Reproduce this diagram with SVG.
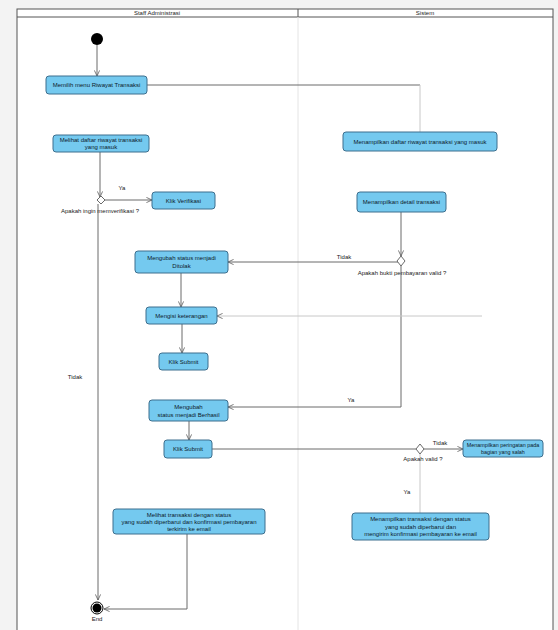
<svg xmlns="http://www.w3.org/2000/svg" width="558" height="630" viewBox="0 0 558 630">
<style>
.node rect{fill:#74c9ef;stroke:#3d6f8e;stroke-width:1}
.t{font-family:"Liberation Sans",Arial,sans-serif;font-size:6px;fill:#0d1a2a;text-anchor:middle}
.lbl{font-family:"Liberation Sans",Arial,sans-serif;font-size:6px;fill:#222;text-anchor:middle}
.c{fill:none;stroke:#6a6a6a;stroke-width:1}
.f{fill:none;stroke:#c8c8c8;stroke-width:1}
.lane{fill:none;stroke:#555;stroke-width:1}
</style>
<defs>
<marker id="a" viewBox="0 0 8 8" refX="7.5" refY="4" markerWidth="6" markerHeight="6" orient="auto" markerUnits="userSpaceOnUse">
<path d="M0,0.5 L7.5,4 L0,7.5" fill="none" stroke="#555" stroke-width="1"/>
</marker>
</defs>
<rect x="0" y="0" width="558" height="630" fill="#f3f3f3"/>
<g id="frame">
<rect x="17" y="9" width="536" height="625" fill="#ffffff" stroke="#555"/>
<line x1="17" y1="17" x2="553" y2="17" class="lane"/>
<line x1="298" y1="17" x2="298" y2="630" stroke="#e4e4e4"/>
<line x1="298" y1="9" x2="298" y2="17" class="lane"/>
<text x="157" y="15" class="lbl">Staff Administrasi</text>
<text x="425" y="15" class="lbl">Sistem</text>
</g>
<g id="connectors">
<path class="c" d="M97,45 L97,76" marker-end="url(#a)"/>
<path class="c" d="M147,85 L420,85"/>
<path class="f" d="M420,85 L420,132"/>
<path class="c" d="M100,152 L100,197" marker-end="url(#a)"/>
<path class="c" d="M104,200 L152,200" marker-end="url(#a)"/>
<path class="c" d="M98,204 L98,600" marker-end="url(#a)"/>
<path class="c" d="M401,212 L401,256" marker-end="url(#a)"/>
<path class="c" d="M398,262 L228,262" marker-end="url(#a)"/>
<path class="c" d="M401,265 L401,407 L228,407" marker-end="url(#a)"/>
<path class="c" d="M181,273 L181,307" marker-end="url(#a)"/>
<path class="f" d="M482,316 L217,316" marker-end="url(#a)"/>
<path class="c" d="M182,324 L182,353" marker-end="url(#a)"/>
<path class="c" d="M189,421 L189,440" marker-end="url(#a)"/>
<path class="c" d="M212,449 L416,449"/>
<path class="c" d="M424,449 L463,449" marker-end="url(#a)"/>
<path class="f" d="M420,452 L420,513"/>
<path class="c" d="M187,534 L187,609 L104,609" marker-end="url(#a)"/>
<text x="122" y="190" class="lbl">Ya</text>
<text x="100" y="213" class="lbl">Apakah ingin memverifikasi ?</text>
<text x="344" y="259" class="lbl">Tidak</text>
<text x="402" y="275" class="lbl">Apakah bukti pembayaran valid ?</text>
<text x="75" y="379" class="lbl">Tidak</text>
<text x="351" y="402" class="lbl">Ya</text>
<text x="440" y="445" class="lbl">Tidak</text>
<text x="423" y="461" class="lbl">Apakah valid ?</text>
<text x="407" y="494" class="lbl">Ya</text>
</g>
<g id="start"><circle cx="97" cy="39" r="6" fill="#000"/></g>
<g id="decision1"><path d="M101,196 L105,200 L101,204 L97,200 Z" fill="#fff" stroke="#6a6a6a"/></g>
<g id="decision2"><path d="M401,256 L405,261 L401,266 L397,261 Z" fill="#fff" stroke="#6a6a6a"/></g>
<g id="decision3"><path d="M420,444 L424,449 L420,454 L416,449 Z" fill="#fff" stroke="#6a6a6a"/></g>
<g id="n1" class="node"><rect x="46" y="76" width="101" height="18" rx="3"/><text x="96.5" y="87" class="t">Memilih menu Riwayat Transaksi</text></g>
<g id="n2" class="node"><rect x="343" y="132" width="154" height="19" rx="3"/><text x="420" y="143.5" class="t">Menampilkan daftar riwayat transaksi yang masuk</text></g>
<g id="n3" class="node"><rect x="53" y="135" width="96" height="17" rx="3"/><text x="101" y="142" class="t">Melihat daftar riwayat transaksi</text><text x="101" y="149" class="t">yang masuk</text></g>
<g id="n4" class="node"><rect x="152" y="192" width="63" height="17" rx="3"/><text x="183.5" y="202.5" class="t">Klik Verifikasi</text></g>
<g id="n5" class="node"><rect x="357" y="192" width="89" height="20" rx="3"/><text x="401.5" y="204" class="t">Menampilkan detail transaksi</text></g>
<g id="n6" class="node"><rect x="135" y="251" width="93" height="22" rx="3"/><text x="181.5" y="260" class="t">Mengubah status menjadi</text><text x="181.5" y="268" class="t">Ditolak</text></g>
<g id="n7" class="node"><rect x="146" y="307" width="71" height="17" rx="3"/><text x="181.5" y="317.5" class="t">Mengisi keterangan</text></g>
<g id="n8" class="node"><rect x="159" y="353" width="49" height="17" rx="3"/><text x="183.5" y="363.5" class="t">Klik Submit</text></g>
<g id="n9" class="node"><rect x="149" y="400" width="79" height="21" rx="3"/><text x="188.5" y="409" class="t">Mengubah</text><text x="188.5" y="417" class="t">status menjadi Berhasil</text></g>
<g id="n10" class="node"><rect x="164" y="440" width="48" height="18" rx="3"/><text x="188" y="451" class="t">Klik Submit</text></g>
<g id="n11" class="node"><rect x="463" y="440" width="80" height="17" rx="3"/><text x="503" y="447" class="t" style="font-size:5.4px">Menampilkan peringatan pada</text><text x="503" y="454" class="t" style="font-size:5.4px">bagian yang salah</text></g>
<g id="n12" class="node"><rect x="352" y="513" width="137" height="27" rx="3"/><text x="420.5" y="521" class="t">Menampilkan transaksi dengan status</text><text x="420.5" y="528.5" class="t">yang sudah diperbarui dan</text><text x="420.5" y="536" class="t">mengirim konfirmasi pembayaran ke email</text></g>
<g id="n13" class="node"><rect x="113" y="509" width="152" height="25" rx="3"/><text x="189" y="516.5" class="t">Melihat transaksi dengan status</text><text x="189" y="523.5" class="t">yang sudah diperbarui dan konfirmasi pembayaran</text><text x="189" y="530.5" class="t">terkirim ke email</text></g>
<g id="end"><circle cx="97" cy="608" r="6" fill="#fff" stroke="#000" stroke-width="1"/><circle cx="97" cy="608" r="4.5" fill="#000"/><text x="97" y="621" class="lbl">End</text></g>
</svg>
